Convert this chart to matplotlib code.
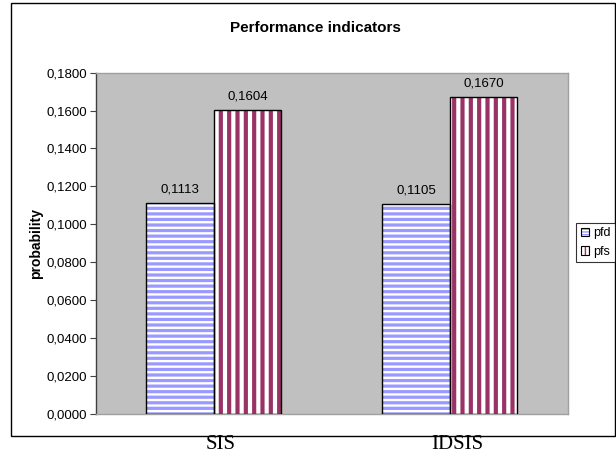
import matplotlib
matplotlib.use("Agg")
import matplotlib.pyplot as plt
from matplotlib.patches import Rectangle, Patch
from matplotlib.legend_handler import HandlerTuple
import numpy as np

categories = ["SIS", "IDSIS"]
series = ["pfd", "pfs"]
pfd = [0.1113, 0.1105]
pfs = [0.1604, 0.1670]
yticks = [0.0, 0.02, 0.04, 0.06, 0.08, 0.10, 0.12, 0.14, 0.16, 0.18]

plt.rcParams['font.family'] = ['Liberation Sans', 'DejaVu Sans']

blue = '#9999ff'
maroon = '#993366'
blue_lw = 2.3
maroon_lw = 3.0

fig = plt.figure(figsize=(6.16, 4.54), dpi=100)
fig.patch.set_facecolor('white')

# outer chart border
fig.patches.append(Rectangle((10.6 / 616, 1 - 435.7 / 454), (615 - 10.6) / 616, (435.7 - 2.7) / 454,
                             transform=fig.transFigure, fill=False, edgecolor='black', lw=1.0))

ax = fig.add_axes([95.5 / 616, 1 - 413.7 / 454, (568 - 95.5) / 616, (413.7 - 72.7) / 454])
ax.set_facecolor('#c0c0c0')

x = np.arange(len(categories))
w = 0.286

# striped fills
with plt.rc_context({'hatch.linewidth': blue_lw}):
    ax.bar(x - w / 2, pfd, w, color='white', edgecolor=blue, hatch='---', lw=0, zorder=2)
with plt.rc_context({'hatch.linewidth': 1.5}):
    h_pfd = Patch(facecolor='white', edgecolor=blue, hatch='------', lw=0)
with plt.rc_context({'hatch.linewidth': maroon_lw}):
    ax.bar(x + w / 2, pfs, w, color='white', edgecolor=maroon, hatch='||', lw=0, zorder=2)
    h_pfs = Patch(facecolor='white', edgecolor=maroon, hatch='||||', lw=0)
# black outlines
ax.bar(x - w / 2, pfd, w, fill=False, edgecolor='black', lw=1.0, zorder=3)
ax.bar(x + w / 2, pfs, w, fill=False, edgecolor='black', lw=1.0, zorder=3)

for xi, v in zip(x - w / 2, pfd):
    ax.annotate(f"{v:.4f}".replace('.', ','), (xi, v), xytext=(0, 5.5), textcoords='offset points',
                ha='center', va='bottom', fontsize=9.5)
for xi, v in zip(x + w / 2, pfs):
    ax.annotate(f"{v:.4f}".replace('.', ','), (xi, v), xytext=(0, 5.5), textcoords='offset points',
                ha='center', va='bottom', fontsize=9.5)

ax.set_xlim(-0.5, 1.5)
ax.set_ylim(0, 0.18)
ax.set_yticks(yticks)
ax.set_yticklabels([f"{t:.4f}".replace('.', ',') for t in yticks], fontsize=9.5)
ax.tick_params(axis='y', direction='out', length=4, width=0.8, color='#404040', pad=2)

ax.set_xticks(x + 0.03)
ax.set_xticklabels(categories, family=['Liberation Serif', 'DejaVu Serif'], fontsize=15)
ax.tick_params(axis='x', length=0, pad=15)

for s in ['top', 'right', 'bottom']:
    ax.spines[s].set_color('#a0a0a0')
    ax.spines[s].set_linewidth(1.0)
ax.spines['left'].set_color('#404040')
ax.spines['left'].set_linewidth(1.0)

fig.text(315 / 616, 1 - 27.5 / 454, "Performance indicators", ha='center', va='center',
         fontsize=11, fontweight='bold')
fig.text(36.5 / 616, 1 - 243.5 / 454, "probability", ha='center', va='center', rotation=90,
         fontsize=10, fontweight='bold')

outline = Patch(facecolor='none', edgecolor='black', lw=0.8)
leg = fig.legend([(h_pfd, outline), (h_pfs, outline)], series, loc='center',
                 bbox_to_anchor=(595.5 / 616, 1 - 242.5 / 454),
                 handler_map={tuple: HandlerTuple(ndivide=1)},
                 fontsize=9, frameon=True, fancybox=False, edgecolor='black',
                 handlelength=0.7, handleheight=0.7, handletextpad=0.3, borderpad=0.35,
                 labelspacing=0.5, borderaxespad=0)
leg.get_frame().set_linewidth(0.8)

fig.savefig("out.png", dpi=100)
